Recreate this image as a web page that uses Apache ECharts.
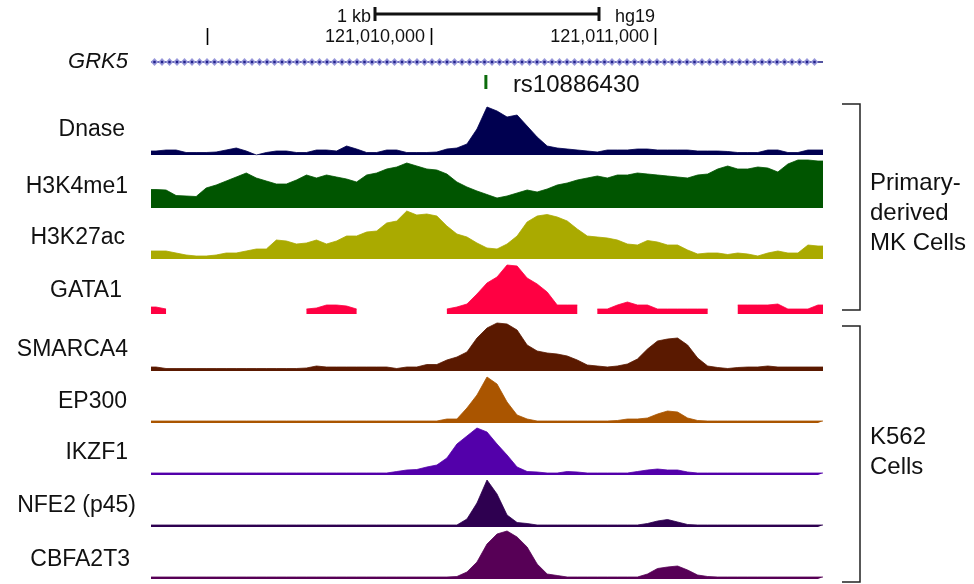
<!DOCTYPE html>
<html><head><meta charset="utf-8">
<style>html,body{margin:0;padding:0;background:#fff}#chart{width:974px;height:584px}</style>
<script src="https://cdn.jsdelivr.net/npm/echarts/dist/echarts.min.js"></script>
</head><body><div id="chart"></div>
<script>
// ---------- data ----------
const viewStart = 121008750, viewEnd = 121011750;
const rulerTicks = [121009000, 121010000, 121011000];
const rulerTickLabels = ['', '121,010,000', '121,011,000'];
const scaleBar = [121009750, 121010750];
const scaleBarLabel = '1 kb';
const assembly = 'hg19';
const geneName = 'GRK5';
const geneSpan = [121008750, 121011750];
const snpName = 'rs10886430';
const snpPos = 121010245;
const trackNames = ['Dnase','H3K4me1','H3K27ac','GATA1','SMARCA4','EP300','IKZF1','NFE2 (p45)','CBFA2T3'];
const groupLabels = [['Primary-','derived','MK Cells'], ['K562','Cells']];

const dnase = [4,5,5,2.5,2.5,2.5,3,5,7,4, 0,2.5,4,4,2.5,2.5,5,5,4,9, 6,2.5,2.5,5,5,2.5,2.5,2.5,3,6, 7,11,26,48,44,38,40,29,18,9, 7,6,5,4,3,5,5,5,6,6, 5,5,5,5,4,4,4,3.5,2.5,2.5, 2.5,5,5,2.5,2.5,5,5];
const h3k4me1 = [18.5,18,12.5,12,11.5,20,23,27,31,35, 30,27,24,24,28,33,30,33,31,29, 26,33,35,39,41,45,42,39,38,34, 26,21,17,13.5,10,12,15,18,16,19, 23,25,28,30,32,30,33,33,35,34, 33,32,31,30,33,34,39,42,39,39, 41,40,36,44,48,48,47];
const h3k27ac = [8,8,6,4,3,3,4,6,6,8, 10,10,19,18,15,16,19,15,18,23, 23,27,28,36,38,48,44,45,43,33, 25,22,16,11,10,15,23,37,43,44.5, 42,38,30,23,22,21,19,15,14,18.5, 17,14,14,9,5,6,6,4.5,6,5, 3,6,8,6,6,14,13];
const gata1 = [7,5,null,null,null,null,null,null,null,null, null,null,null,null,null,5,6,9,9,8, 5,null,null,null,null,null,null,null,null,5, 7,10,20,31,37,49,48,36,30,22, 9,9,9,null,5,5,9,12,9,9, 5,5,5,5,5,5,null,null,9,9, 9,9,10,5,5,5,9];
const smarca4 = [4,2.5,2.5,2.5,2.5,2.5,2.5,2.5,2.5,2.5, 2.5,2.5,2.5,2.5,2.5,3,5,4,4,4, 4,4,4,4,2.5,4,4,6.5,6.5,11, 14,19,33,43,48,47,41,26,20,18, 17,15,11,6,5,4,5,7,12,22, 30,32,33,26,13,5,3.5,2.5,3.5,4, 4,5,4,4,4,4,4];
const ep300 = [2,2,2,2,2,2,2,2,2,2, 2,2,2,2,2,2,2,2,2,2, 2,2,2,2,2,2,2,2,2,4, 4,15,28,46,39,21,8,4,2,2, 2,2,2,2,2,2,2.5,4,4,5, 9,12,11,5,2.5,2,2,2,2,2, 2,2,2,2,2,2,2];
const ikzf1 = [2,2,2,2,2,2,2,2,2,2, 2,2,2,2,2,2,2,2,2,2, 2,2,2,2,3.5,5,5.5,8,10,17, 31,39,47,43,31,20,8,3.5,3,2, 2,3.5,3,2,2,2,2,2,3.5,5, 6,5,5,3,2,2,2,2,2,2, 2,2,2,2,2,2,2];
const nfe2 = [2,2,2,2,2,2,2,2,2,2, 2,2,2,2,2,2,2,2,2,2, 2,2,2,2,2,2,2,2,2,2, 2,8,24,47,33,12,4.5,3.5,2,2, 2,2,2,2,2,2,2,2,2,3.5, 6,7.5,5,2.5,2,2,2,2,2,2, 2,2,2,2,2,2,2];
const cbfa2t3 = [2,2,2,2,2,2,2,2,2,2, 2,2,2,2,2,2,2,2,2,2, 2,2,2,2,2,2,2,2,2,2, 2.5,7,17,35,45,48,42,32,15,5, 3.5,2,2,2,2,2,2,2,2,5, 10.5,12,13,9,4,2.5,2,2,2,2, 2,2,2,2,2,2,2];

const trackValues = [dnase, h3k4me1, h3k27ac, gata1, smarca4, ep300, ikzf1, nfe2, cbfa2t3];

// ---------- layout / style ----------
const trackColors = ['#000050','#005500','#aaaa00','#ff0042','#5a1900','#aa5500','#5300aa','#2e0050','#570056'];
const trackBaselines = [155,208,259,314,371,423,475,527,579];
const trackLabelY = [130,187,238,291,350,402,453,506,560];
const trackLabelRight = [125,128,125,122,128,127,128,136,130];
const trackH = 50, plotLeft = 151, plotWidth = 672;
const FONT = "'Liberation Sans', Arial, Helvetica, sans-serif";

const grids = [], xAxes = [], yAxes = [], series = [];
trackValues.forEach((vals, i) => {
  grids.push({left: plotLeft, width: plotWidth, top: trackBaselines[i] - trackH, height: trackH});
  xAxes.push({type: 'value', gridIndex: i, min: viewStart, max: viewEnd, show: false});
  yAxes.push({type: 'value', gridIndex: i, min: 0, max: 50, show: false});
  const n = vals.length, bin = (viewEnd - viewStart) / n;
  // each bin value is held from its centre out to the view edges for the first/last bin
  const pts = [[viewStart, vals[0]]]
    .concat(vals.map((v, j) => [viewStart + (j + 0.5) * bin, v]))
    .concat([[viewEnd, vals[n - 1]]]);
  series.push({
    type: 'line', xAxisIndex: i, yAxisIndex: i, symbol: 'none', silent: true,
    connectNulls: false, animation: false,
    data: pts,
    lineStyle: {width: 0.8, color: trackColors[i]},
    itemStyle: {color: trackColors[i]},
    areaStyle: {color: trackColors[i], opacity: 1}
  });
});

// top header grid (ruler, gene, snp)
const H = trackValues.length;
grids.push({left: plotLeft, width: plotWidth, top: 0, height: 100});
xAxes.push({type: 'value', gridIndex: H, min: viewStart, max: viewEnd, show: false});
yAxes.push({type: 'value', gridIndex: H, min: 0, max: 100, inverse: true, show: false});

// ruler ticks
series.push({
  type: 'custom', xAxisIndex: H, yAxisIndex: H, clip: false, silent: true, animation: false,
  data: rulerTicks.map((t, i) => [t, i]),
  renderItem: (params, api) => {
    const a = api.coord([api.value(0), 28]), b = api.coord([api.value(0), 45]);
    const lab = rulerTickLabels[api.value(1)];
    const ch = [{type: 'line', shape: {x1: Math.round(a[0]) + 0.5, y1: a[1], x2: Math.round(a[0]) + 0.5, y2: b[1]}, style: {stroke: '#000', lineWidth: 1.6}}];
    if (lab) ch.push({type: 'text', style: {text: lab, x: a[0] - 6, y: 37, align: 'right', verticalAlign: 'middle', fontSize: 18, fontFamily: FONT, fill: '#111'}});
    return {type: 'group', children: ch};
  }
});
// scale bar
series.push({
  type: 'custom', xAxisIndex: H, yAxisIndex: H, clip: false, silent: true, animation: false,
  data: [[scaleBar[0], scaleBar[1]]],
  renderItem: (params, api) => {
    const s = api.coord([api.value(0), 14]), e = api.coord([api.value(1), 14]);
    const st = {stroke: '#111', lineWidth: 3};
    return {type: 'group', children: [
      {type: 'line', shape: {x1: s[0], y1: 14, x2: e[0], y2: 14}, style: st},
      {type: 'line', shape: {x1: s[0], y1: 7, x2: s[0], y2: 21}, style: st},
      {type: 'line', shape: {x1: e[0], y1: 7, x2: e[0], y2: 21}, style: st},
      {type: 'text', style: {text: scaleBarLabel, x: s[0] - 4, y: 17, align: 'right', verticalAlign: 'middle', fontSize: 18, fontFamily: FONT, fill: '#111'}},
      {type: 'text', style: {text: assembly, x: e[0] + 16, y: 17, align: 'left', verticalAlign: 'middle', fontSize: 18, fontFamily: FONT, fill: '#111'}}
    ]};
  }
});
// gene
series.push({
  type: 'custom', xAxisIndex: H, yAxisIndex: H, clip: false, silent: true, animation: false,
  data: [[geneSpan[0], geneSpan[1]]],
  renderItem: (params, api) => {
    const s = api.coord([api.value(0), 62]), e = api.coord([api.value(1), 62]);
    const y = s[1];
    const ch = [{type: 'rect', shape: {x: s[0], y: y - 0.75, width: e[0] - s[0], height: 1.5}, style: {fill: '#1a1a80'}}];
    for (let x = s[0] + 3.5; x <= e[0] - 2; x += 7.5) {
      ch.push({type: 'polygon', shape: {points: [[x - 3.8, y], [x, y - 4], [x + 3.8, y], [x, y + 4]]}, style: {fill: '#9898da'}});
      ch.push({type: 'rect', shape: {x: x - 1.2, y: y - 1.2, width: 2.4, height: 2.4}, style: {fill: '#20208a'}});
    }
    return {type: 'group', children: ch};
  }
});
// SNP
series.push({
  type: 'custom', xAxisIndex: H, yAxisIndex: H, clip: false, silent: true, animation: false,
  data: [[snpPos]],
  renderItem: (params, api) => {
    const p = api.coord([api.value(0), 75]);
    return {type: 'group', children: [
      {type: 'rect', shape: {x: p[0] - 1.5, y: 75, width: 3, height: 14}, style: {fill: '#0c6b0c'}},
      {type: 'text', style: {text: snpName, x: p[0] + 27, y: 85, align: 'left', verticalAlign: 'middle', fontSize: 24, fontFamily: FONT, fill: '#111'}}
    ]};
  }
});

// graphics: labels & brackets
const graphic = [];
graphic.push({type: 'text', style: {text: geneName, x: 128, y: 62, align: 'right', verticalAlign: 'middle', fontSize: 22, fontStyle: 'italic', fontFamily: FONT, fill: '#111'}});
trackNames.forEach((n, i) => {
  graphic.push({type: 'text', style: {text: n, x: trackLabelRight[i], y: trackLabelY[i], align: 'right', verticalAlign: 'middle', fontSize: 23, fontFamily: FONT, fill: '#111'}});
});
const brackets = [[104, 310], [326, 582]];
brackets.forEach(([t, b]) => {
  graphic.push({type: 'polyline', shape: {points: [[842, t], [860, t], [860, b], [842, b]]}, style: {stroke: '#222', lineWidth: 1.5, fill: null}});
});
const groupLabelY = [183, 437];
groupLabels.forEach((lines, g) => {
  lines.forEach((t, k) => {
    graphic.push({type: 'text', style: {text: t, x: 870, y: groupLabelY[g] + k * 30, align: 'left', verticalAlign: 'middle', fontSize: 24, fontFamily: FONT, fill: '#111'}});
  });
});

const chart = echarts.init(document.getElementById('chart'), null, {renderer: 'canvas'});
chart.setOption({
  animation: false,
  backgroundColor: '#fff',
  grid: grids, xAxis: xAxes, yAxis: yAxes, series: series, graphic: graphic
});
</script></body></html>
